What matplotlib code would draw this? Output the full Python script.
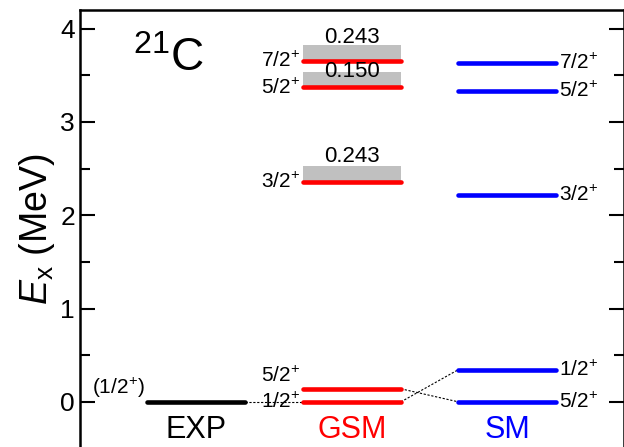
import matplotlib
matplotlib.use("Agg")
import matplotlib.pyplot as plt
from matplotlib.patches import Rectangle

plt.rcParams['font.family'] = ['Liberation Sans', 'DejaVu Sans']
plt.rcParams['mathtext.fontset'] = 'custom'
plt.rcParams['mathtext.rm'] = 'Liberation Sans'
plt.rcParams['mathtext.it'] = 'Liberation Sans:italic'

# level schemes (MeV)
columns = ["EXP", "GSM", "SM"]
column_colors = ["black", "red", "blue"]

exp_energies = [0.0]
exp_labels = ["(1/2$^{+}$)"]

gsm_energies = [0.0, 0.14, 2.36, 3.37, 3.655]
gsm_labels = ["1/2$^{+}$", "5/2$^{+}$", "3/2$^{+}$", "5/2$^{+}$", "7/2$^{+}$"]
gsm_label_y = [0.0, 0.28, 2.36, 3.37, 3.655]

# resonance widths of GSM states (MeV)
gsm_res_energies = [2.36, 3.37, 3.655]
gsm_res_widths = ["0.243", "0.150", "0.243"]
gsm_width_label_y = [2.63, 3.54, 3.91]

sm_energies = [0.0, 0.346, 2.22, 3.33, 3.63]
sm_labels = ["5/2$^{+}$", "1/2$^{+}$", "3/2$^{+}$", "5/2$^{+}$", "7/2$^{+}$"]

# correspondence lines: (col_a, E_a, col_b, E_b)
links = [(1, 0.0, 2, 0.0), (2, 0.14, 3, 0.0), (2, 0.0, 3, 0.346)]

half_w = 0.315
box_h = 0.17

fig = plt.figure(figsize=(6.24, 4.47), dpi=100)
ax = fig.add_axes([0.128, -0.0034, 0.872, 0.981])
ax.set_xlim(0.25, 3.75)
ax.set_ylim(-0.5, 4.2)

# grey resonance boxes
for e in gsm_res_energies:
    ax.add_patch(Rectangle((2 - half_w, e), 2 * half_w, box_h,
                           facecolor='#c0c0c0', edgecolor='none', zorder=1))
for w, y in zip(gsm_res_widths, gsm_width_label_y):
    ax.text(2, y, w, ha='center', va='center', fontsize=16, zorder=3)

# levels
for x, energies, c in zip([1, 2, 3], [exp_energies, gsm_energies, sm_energies], column_colors):
    for e in energies:
        ax.plot([x - half_w, x + half_w], [e, e], color=c, lw=3.3,
                solid_capstyle='round', zorder=2)

for xa, ea, xb, eb in links:
    ax.plot([xa + half_w, xb - half_w], [ea, eb], color='black', lw=0.8,
            ls=(0, (2, 1.5)), zorder=1)

# spin labels
for lab, e in zip(exp_labels, exp_energies):
    ax.text(1 - half_w - 0.02, e + 0.02, lab, ha='right', va='bottom', fontsize=15)
for lab, y in zip(gsm_labels, gsm_label_y):
    ax.text(2 - half_w - 0.02, y, lab, ha='right', va='center', fontsize=15)
for lab, e in zip(sm_labels, sm_energies):
    ax.text(3 + half_w + 0.02, e, lab, ha='left', va='center', fontsize=15)

for x, name, c in zip([1, 2, 3], columns, column_colors):
    ax.text(x, -0.3, name, ha='center', va='center', fontsize=22, color=c)

ax.text(0.59, 3.67, "$^{21}$C", ha='left', va='center', fontsize=33)

ax.set_ylabel("$E_{\\rm x}$ (MeV)", fontsize=27, labelpad=2)
ax.set_yticks([0, 1, 2, 3, 4])
ax.set_yticks([0.5, 1.5, 2.5, 3.5], minor=True)
ax.set_xticks([])
ax.tick_params(axis='y', which='both', direction='in', left=True, right=True,
               labelsize=19, width=1.5)
ax.tick_params(axis='y', which='major', length=11)
ax.tick_params(axis='y', which='minor', length=7)
for s in ax.spines.values():
    s.set_linewidth(1.8)
ax.spines['bottom'].set_visible(False)

fig.savefig("out.png", dpi=100)
